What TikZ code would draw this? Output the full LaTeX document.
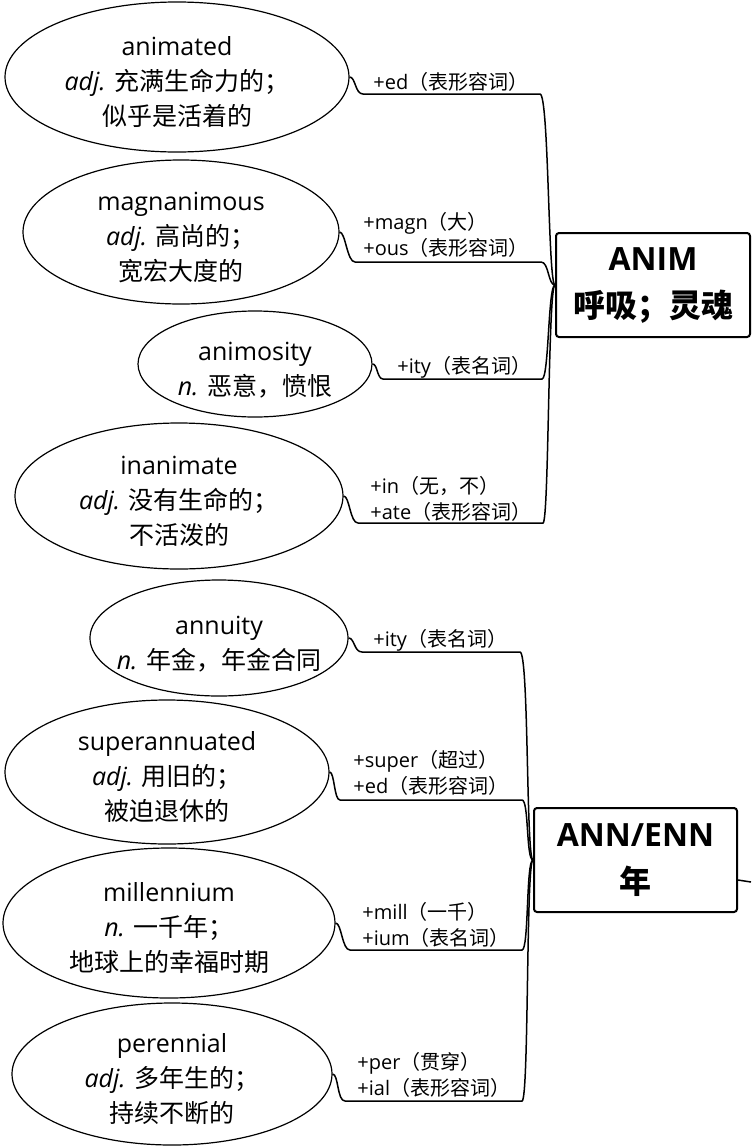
\documentclass[tikz,border=0pt]{standalone}
\usepackage{fontspec}
\setmainfont{Open Sans}
\newfontfamily\cjk{Noto Sans CJK SC}
\usetikzlibrary{shapes.geometric}
\newcommand{\topstrut}{\rule{0pt}{15pt}}
\tikzset{
  word/.style={ellipse,draw,line width=0.6pt,inner xsep=-14pt,inner ysep=-14pt,
    align=center,font=\fontsize{12.5}{17.5}\selectfont},
  root/.style={rectangle,draw,line width=1pt,rounded corners=1.5pt,inner sep=0pt,
    align=center,font=\fontsize{16}{23.5}\selectfont\bfseries},
  affix/.style={anchor=west,inner sep=0pt,align=left,
    font=\fontsize{10}{13}\selectfont},
  conn/.style={line width=0.75pt}
}
\begin{document}
\begin{tikzpicture}[x=0.5pt,y=-0.5pt]
\useasboundingbox (0,0) rectangle (751,1146);
% roots
\node[root,minimum width=97pt,minimum height=52pt] (anim) at (653,285)
  {ANIM\\{\cjk 呼吸；灵魂}};
\node[root,minimum width=101.5pt,minimum height=52pt] (ann) at (635.5,860)
  {ANN/ENN\\{\cjk 年}};
\coordinate (offr) at (751,882);
\draw[conn] ([yshift=-10pt]ann.east) -- (offr);
% words
\node[word,minimum width=172pt,minimum height=75pt] (e1) at (177,77)
  {\topstrut animated\\{\itshape adj.} {\cjk 充满生命力的；}\\{\cjk 似乎是活着的}};
\node[word,minimum width=158pt,minimum height=72pt] (e2) at (181,232)
  {\topstrut magnanimous\\{\itshape adj.} {\cjk 高尚的；}\\{\cjk 宽宏大度的}};
\node[word,minimum width=117pt,minimum height=53pt] (e3) at (255,364)
  {\topstrut animosity\\{\itshape n.} {\cjk 恶意，愤恨}};
\node[word,minimum width=164pt,minimum height=73pt] (e4) at (179,496)
  {\topstrut inanimate\\{\itshape adj.} {\cjk 没有生命的；}\\{\cjk 不活泼的}};
\node[word,minimum width=129pt,minimum height=58pt] (e5) at (219,638)
  {\topstrut annuity\\{\itshape n.} {\cjk 年金，年金合同}};
\node[word,minimum width=162pt,minimum height=72pt] (e6) at (167,772)
  {\topstrut superannuated\\{\itshape adj.} {\cjk 用旧的；}\\{\cjk 被迫退休的}};
\node[word,minimum width=166pt,minimum height=75pt] (e7) at (169,923)
  {\topstrut millennium\\{\itshape n.} {\cjk 一千年；}\\{\cjk 地球上的幸福时期}};
\node[word,minimum width=160pt,minimum height=71pt] (e8) at (172,1074)
  {\topstrut perennial\\{\itshape adj.} {\cjk 多年生的；}\\{\cjk 持续不断的}};
% affix labels
\node[affix] (l1) at (373,82) {+ed{\cjk （表形容词）}};
\node[affix] (l2) at (363,235) {+magn{\cjk （大）}\\+ous{\cjk （表形容词）}};
\node[affix] (l3) at (397,367) {+ity{\cjk （表名词）}};
\node[affix] (l4) at (370,499) {+in{\cjk （无，不）}\\+ate{\cjk （表形容词）}};
\node[affix] (l5) at (373,640) {+ity{\cjk （表名词）}};
\node[affix] (l6) at (353,772.5) {+super{\cjk （超过）}\\+ed{\cjk （表形容词）}};
\node[affix] (l7) at (362,924.5) {+mill{\cjk （一千）}\\+ium{\cjk （表名词）}};
\node[affix] (l8) at (357,1075) {+per{\cjk （贯穿）}\\+ial{\cjk （表形容词）}};
% underline end points
\coordinate (a1) at (363,94);   \coordinate (b1) at (540,94);
\coordinate (a2) at (355,262);  \coordinate (b2) at (541,262);
\coordinate (a3) at (383,379);  \coordinate (b3) at (542,379);
\coordinate (a4) at (358,523);  \coordinate (b4) at (543,523);
\coordinate (a5) at (362,652);  \coordinate (b5) at (520,652);
\coordinate (a6) at (340,800);  \coordinate (b6) at (522,800);
\coordinate (a7) at (350,950);  \coordinate (b7) at (522,950);
\coordinate (a8) at (345,1101); \coordinate (b8) at (522,1101);
% connectors
\draw[conn] (e1.east) .. controls +(6,0) and +(-8,0) .. (a1) -- (b1)
  .. controls +(9,0) and +(-7,0) .. (anim.west);
\draw[conn] (e2.east) .. controls +(6,0) and +(-8,0) .. (a2) -- (b2)
  .. controls +(8,0) and +(-7,0) .. (anim.west);
\draw[conn] (e3.east) .. controls +(5,0) and +(-6,0) .. (a3) -- (b3)
  .. controls +(7,0) and +(-7,0) .. (anim.west);
\draw[conn] (e4.east) .. controls +(6,0) and +(-8,0) .. (a4) -- (b4)
  .. controls +(6,0) and +(-7,0) .. (anim.west);
\draw[conn] (e5.east) .. controls +(6,0) and +(-8,0) .. (a5) -- (b5)
  .. controls +(9,0) and +(-7,0) .. (ann.west);
\draw[conn] (e6.east) .. controls +(5,0) and +(-6,0) .. (a6) -- (b6)
  .. controls +(7,0) and +(-7,0) .. (ann.west);
\draw[conn] (e7.east) .. controls +(6,0) and +(-8,0) .. (a7) -- (b7)
  .. controls +(7,0) and +(-7,0) .. (ann.west);
\draw[conn] (e8.east) .. controls +(6,0) and +(-8,0) .. (a8) -- (b8)
  .. controls +(7,0) and +(-7,0) .. (ann.west);
\end{tikzpicture}
\end{document}
